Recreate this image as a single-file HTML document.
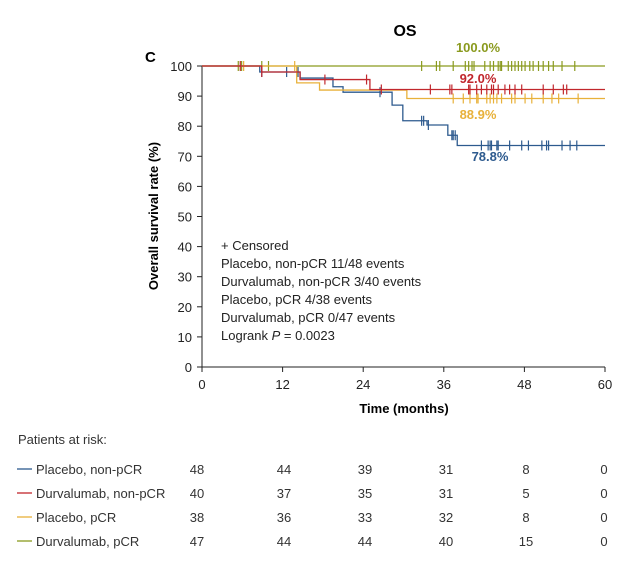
<!DOCTYPE html>
<html><head><meta charset="utf-8"><style>
body{margin:0;background:#fff;font-family:"Liberation Sans",sans-serif;}
svg text{font-family:"Liberation Sans",sans-serif;}
</style></head><body>
<svg id="chart" width="639" height="563" xmlns="http://www.w3.org/2000/svg">
<text x="405" y="36" font-size="16" font-weight="bold" text-anchor="middle">OS</text>
<text x="145" y="62" font-size="15" font-weight="bold">C</text>
<text transform="translate(158,216) rotate(-90)" font-size="13" font-weight="bold" text-anchor="middle">Overall survival rate (%)</text>
<text x="404" y="413" font-size="13" font-weight="bold" text-anchor="middle">Time (months)</text>
<g id="axes"></g>
<g id="series"></g>
<g font-size="13" fill="#222">
<text x="221" y="250">+ Censored</text>
<text x="221" y="268">Placebo, non-pCR 11/48 events</text>
<text x="221" y="286">Durvalumab, non-pCR 3/40 events</text>
<text x="221" y="304">Placebo, pCR 4/38 events</text>
<text x="221" y="322">Durvalumab, pCR 0/47 events</text>
<text x="221" y="340">Logrank <tspan font-style="italic">P</tspan> = 0.0023</text>
</g>
<text x="18" y="444" font-size="13" fill="#333">Patients at risk:</text>
<g id="risk"></g>
</svg>
<script>
const xTicks=[0,12,24,36,48,60];
const yTicks=[0,10,20,30,40,50,60,70,80,90,100];
const names=["Placebo, non-pCR","Durvalumab, non-pCR","Placebo, pCR","Durvalumab, pCR"];
const colors=["#2d5a8e","#c1272d","#e8b13a","#8a9a1e"];
const stepsBlue=[[0,100],[8.6,98],[14.6,96],[19.5,93.1],[21,91.3],[28.3,87],[29.9,81.8],[33.5,80.4],[36.6,77],[38,73.6]];
const stepsRed=[[0,100],[8.9,98],[14.6,95.5],[25,92.2]];
const stepsYellow=[[0,100],[14.1,94.4],[17.5,92],[30.5,89.2]];
const stepsGreen=[[0,100]];
const censBlue=[8.9,12.6,14.3,26.5,32.7,33.0,33.7,37.2,37.4,37.7,41.6,42.6,42.9,43.1,43.9,44.1,45.8,47.6,48.6,50.6,51.3,51.6,53.6,54.8,55.8];
const censRed=[5.7,8.9,18.3,24.5,26.7,34.0,36.9,37.2,39.7,39.9,40.9,41.6,42.4,43.1,43.4,44.1,45.1,45.8,46.6,47.6,50.8,52.3,53.8,54.3];
const censYellow=[6.2,13.8,37.4,38.9,39.9,40.9,41.1,42.4,42.9,43.4,43.9,44.6,46.1,46.6,48.1,49.1,50.8,52.1,53.1,56.0];
const censGreen=[5.4,5.9,8.9,9.9,32.7,34.9,35.4,37.4,39.2,39.7,40.2,40.5,42.1,42.9,43.4,44.1,44.4,44.6,45.6,46.1,46.6,47.1,47.6,48.1,48.8,49.3,50.1,50.8,51.6,52.3,53.6,55.5];
const finalLabels=["78.8%","92.0%","88.9%","100.0%"];
const riskBlue=[48,44,39,31,8,0];
const riskRed=[40,37,35,31,5,0];
const riskYellow=[38,36,33,32,8,0];
const riskGreen=[47,44,44,40,15,0];

const NS="http://www.w3.org/2000/svg";
const X=t=>202+t*(403/60);
const Y=v=>367-v*3.01;
function mk(tag,attrs,parent){const e=document.createElementNS(NS,tag);for(const k in attrs)e.setAttribute(k,attrs[k]);parent.appendChild(e);return e;}
const ax=document.getElementById('axes');
let l=mk('line',{x1:202,y1:Y(100),x2:202,y2:367,stroke:'#222','stroke-width':1},ax);


l=mk('line',{x1:202,y1:367,x2:X(60),y2:367,stroke:'#222','stroke-width':1},ax);


yTicks.forEach(v=>{
 mk('line',{x1:197,x2:202,y1:Y(v),y2:Y(v),stroke:'#222'},ax);
 const t=mk('text',{x:192,y:Y(v)+5,'font-size':13,'text-anchor':'end',fill:'#222'},ax);t.textContent=v;
 
 
});
xTicks.forEach(v=>{
 mk('line',{x1:X(v),x2:X(v),y1:367,y2:372,stroke:'#222'},ax);
 const t=mk('text',{x:X(v),y:389,'font-size':13,'text-anchor':'middle',fill:'#222'},ax);t.textContent=v;
 
 
});
const steps=[stepsBlue,stepsRed,stepsYellow,stepsGreen];
const cens=[censBlue,censRed,censYellow,censGreen];
const sg=document.getElementById('series');
const keys=['placebo-nonpcr','durva-nonpcr','placebo-pcr','durva-pcr'];
const order=[3,0,2,1];
function valAt(s,t){let v=100;s.forEach(p=>{if(p[0]<=t)v=p[1];});return v;}
order.forEach(i=>{
 const s=steps[i];let d='M'+X(0)+','+Y(s[0][1]);
 for(let k=1;k<s.length;k++){d+=' H'+X(s[k][0])+' V'+Y(s[k][1]);}
 d+=' H'+X(60);
 const p=mk('path',{d:d,fill:'none',stroke:colors[i],'stroke-width':1.3},sg);
 
 
 cens[i].forEach(t=>{const v=valAt(s,t);
  const c=mk('line',{x1:X(t),x2:X(t),y1:Y(v)-5,y2:Y(v)+5,stroke:colors[i],'stroke-width':1.2},sg);
  
  });
});
const labPos=[[490,161],[478,83],[478,119],[478,52]];
finalLabels.forEach((s,i)=>{const t=mk('text',{x:labPos[i][0],y:labPos[i][1],'font-size':13,'font-weight':'bold','text-anchor':'middle',fill:colors[i]},sg);t.textContent=s;
 
 });
const rg=document.getElementById('risk');
const risk=[riskBlue,riskRed,riskYellow,riskGreen];
const numX=[197,284,365,446,526,604];
risk.forEach((r,i)=>{const y=474+i*24;
 const ln=mk('line',{x1:17,x2:32,y1:y-5,y2:y-5,stroke:colors[i],'stroke-width':1.3},rg);
 
 
 const n=mk('text',{x:36,y:y,'font-size':13,fill:'#333'},rg);n.textContent=names[i];
 
 
 r.forEach((v,j)=>{const t=mk('text',{x:numX[j],y:y,'font-size':13,'text-anchor':'middle',fill:'#333'},rg);t.textContent=v;
  
  });
});
</script>
</body></html>
